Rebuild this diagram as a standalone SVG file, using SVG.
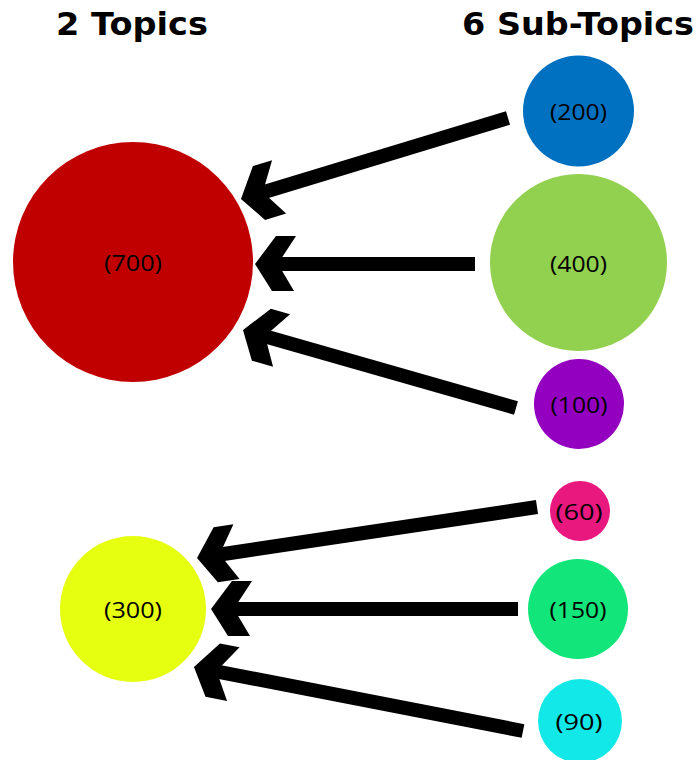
<svg xmlns="http://www.w3.org/2000/svg" width="699" height="760" viewBox="0 0 699 760">
  <defs>
    <!-- open chevron head; local (0,0) is the tip, travel along +x -->
    <marker id="chev" markerUnits="userSpaceOnUse" markerWidth="60" markerHeight="70" refX="-20" refY="0" orient="auto" viewBox="-60 -35 60 70" overflow="visible">
      <path d="M0,0 L-17,-27 L-39,-27 L-26,-5 L-26,5 L-41,28 L-21,28 Z" fill="#000"/>
    </marker>
  </defs>
  <style>
    .title { font-family: "DejaVu Sans", "Liberation Sans", sans-serif; font-weight: bold; font-size: 32px; fill: #000; }
    .lbl { font-family: "Open Sans", "Noto Sans", sans-serif; font-size: 22px; fill: #000; text-anchor: middle; dominant-baseline: central; }
    .conn line { stroke: #000; stroke-width: 14; stroke-linecap: butt; marker-end: url(#chev); }
  </style>
  <rect width="699" height="760" fill="#fff"/>

  <text class="title" x="56" y="35" textLength="152" lengthAdjust="spacingAndGlyphs">2 Topics</text>
  <text class="title" x="462" y="35" textLength="232" lengthAdjust="spacingAndGlyphs">6 Sub-Topics</text>

  <g id="connectors" class="conn">
    <line x1="508" y1="118" x2="260.1" y2="193.2"/>
    <line x1="475" y1="264" x2="275" y2="264"/>
    <line x1="516" y1="408" x2="262.2" y2="335.5"/>
    <line x1="537" y1="507" x2="216.8" y2="555"/>
    <line x1="518" y1="609" x2="231" y2="609"/>
    <line x1="523" y1="731" x2="213.6" y2="670.8"/>
  </g>

  <g id="topic-700"><circle cx="133" cy="262" r="120" fill="#C00000"/><text class="lbl" x="133" y="262" textLength="58" lengthAdjust="spacingAndGlyphs">(700)</text></g>
  <g id="topic-300"><circle cx="133" cy="609" r="73" fill="#E6FF10"/><text class="lbl" x="133" y="609" textLength="58" lengthAdjust="spacingAndGlyphs">(300)</text></g>

  <g id="sub-200"><circle cx="578.5" cy="111" r="55.5" fill="#0070C0"/><text class="lbl" x="578.5" y="111" textLength="57" lengthAdjust="spacingAndGlyphs">(200)</text></g>
  <g id="sub-400"><circle cx="578.5" cy="262.5" r="88.5" fill="#92D050"/><text class="lbl" x="578.5" y="262.5" textLength="57" lengthAdjust="spacingAndGlyphs">(400)</text></g>
  <g id="sub-100"><circle cx="579" cy="404" r="45" fill="#9400C0"/><text class="lbl" x="579" y="404" textLength="57" lengthAdjust="spacingAndGlyphs">(100)</text></g>
  <g id="sub-60"><circle cx="580" cy="511" r="30" fill="#E8187F"/><text class="lbl" x="579" y="511" textLength="47" lengthAdjust="spacingAndGlyphs">(60)</text></g>
  <g id="sub-150"><circle cx="578" cy="609" r="50" fill="#12E67A"/><text class="lbl" x="578" y="609" textLength="57" lengthAdjust="spacingAndGlyphs">(150)</text></g>
  <g id="sub-90"><circle cx="580" cy="721" r="42" fill="#13E8E8"/><text class="lbl" x="579" y="721" textLength="47" lengthAdjust="spacingAndGlyphs">(90)</text></g>
</svg>
